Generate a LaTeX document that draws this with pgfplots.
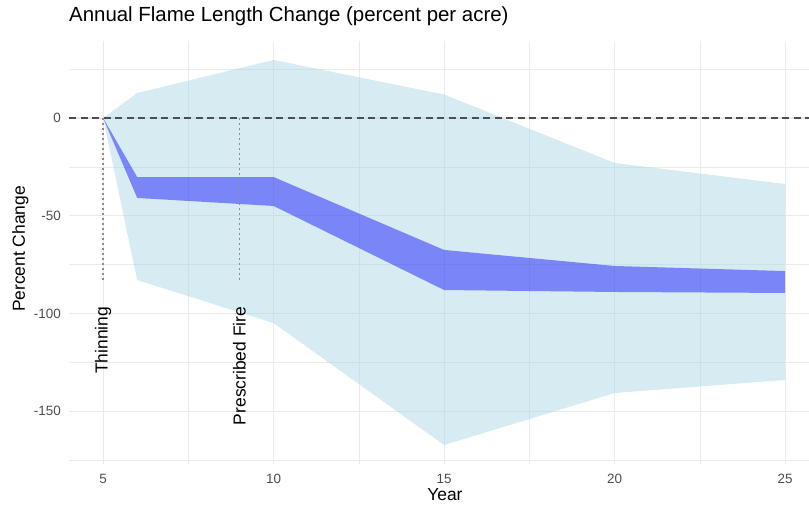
\documentclass[border=0pt]{standalone}
\usepackage{pgfplots}
\pgfplotsset{compat=1.18}
\usepackage{fontspec}
\setmainfont{Liberation Sans}
\definecolor{gridgray}{HTML}{EBEBEB}
\definecolor{ticktext}{HTML}{4D4D4D}
\definecolor{lband}{HTML}{ADD8E6}
\definecolor{zeroline}{HTML}{4D4D4D}
\definecolor{vline}{HTML}{8C8C8C}
\begin{document}
\begin{tikzpicture}
\begin{axis}[
  scale only axis,
  width=740bp, height=423.4bp,
  xmin=4, xmax=25.70, ymin=-177, ymax=39.6,
  axis line style={draw=none},
  major tick style={draw=none}, minor tick style={draw=none},
  xtick={5,10,15,20,25}, xticklabels={5,10,15,20,25},
  minor xtick={7.5,12.5,17.5,22.5},
  ytick={-150,-100,-50,0}, yticklabels={-150,-100,-50,0},
  minor ytick={-175,-125,-75,-25,25},
  grid=both,
  major grid style={color=gridgray, line width=1.2bp},
  minor grid style={color=gridgray, line width=0.6bp},
  xticklabel style={font=\fontsize{13.5}{16}\selectfont, text=ticktext, anchor=north, inner sep=0pt, yshift=-10bp},
  yticklabel style={font=\fontsize{13.5}{16}\selectfont, text=ticktext, anchor=east, inner sep=0pt, xshift=-8bp},
  title={Annual Flame Length Change (percent per acre)},
  title style={at={(axis description cs:0,1)}, anchor=base west, inner sep=0pt, yshift=13.6bp, font=\fontsize{20.5}{24}\selectfont},
  xlabel={Year},
  xlabel style={at={(axis description cs:0.508,-0.0862)}, anchor=base, inner sep=0pt, font=\fontsize{17.5}{20}\selectfont},
  ylabel={Percent Change},
  ylabel style={at={(axis description cs:-0.0595,0.508)}, anchor=base, rotate=0, inner sep=0pt, font=\fontsize{17.5}{20}\selectfont},
]
% light band (outer range)
\addplot[draw=none, fill=lband, fill opacity=0.5] coordinates {
  (5,0) (6,12.8) (10,29.7) (15,12) (20,-23) (25,-33.8)
  (25,-134) (20,-140.7) (15,-167.3) (10,-104.9) (6,-82.9) (5,0)
} -- cycle;
% dark band (inner range)
\addplot[draw=none, fill=blue, fill opacity=0.43] coordinates {
  (5,0) (6,-30.2) (10,-30.2) (15,-67.5) (20,-75.7) (25,-78.3)
  (25,-89.5) (20,-89) (15,-88) (10,-45) (6,-40.9) (5,0)
} -- cycle;
% zero reference line
\addplot[color=zeroline, line width=1.6bp, dash pattern=on 7bp off 4.5bp] coordinates {(4,0) (25.7,0)};
% treatment markers
\addplot[color=vline, line width=1.5bp, dash pattern=on 1.5bp off 3.5bp] coordinates {(5,0) (5,-82.9)};
\addplot[color=vline, line width=1.5bp, dash pattern=on 1.5bp off 3.5bp] coordinates {(9,0) (9,-82.9)};
\node[rotate=90, anchor=east, inner sep=0pt, font=\fontsize{17.5}{20}\selectfont] at (axis cs:5,-96.5) {Thinning};
\node[rotate=90, anchor=east, inner sep=0pt, font=\fontsize{17.5}{20}\selectfont] at (axis cs:9,-96.5) {Prescribed Fire};
\end{axis}
\pgfresetboundingbox
\useasboundingbox (-69bp,-42bp) rectangle (740bp,464bp);
\end{tikzpicture}
\end{document}
